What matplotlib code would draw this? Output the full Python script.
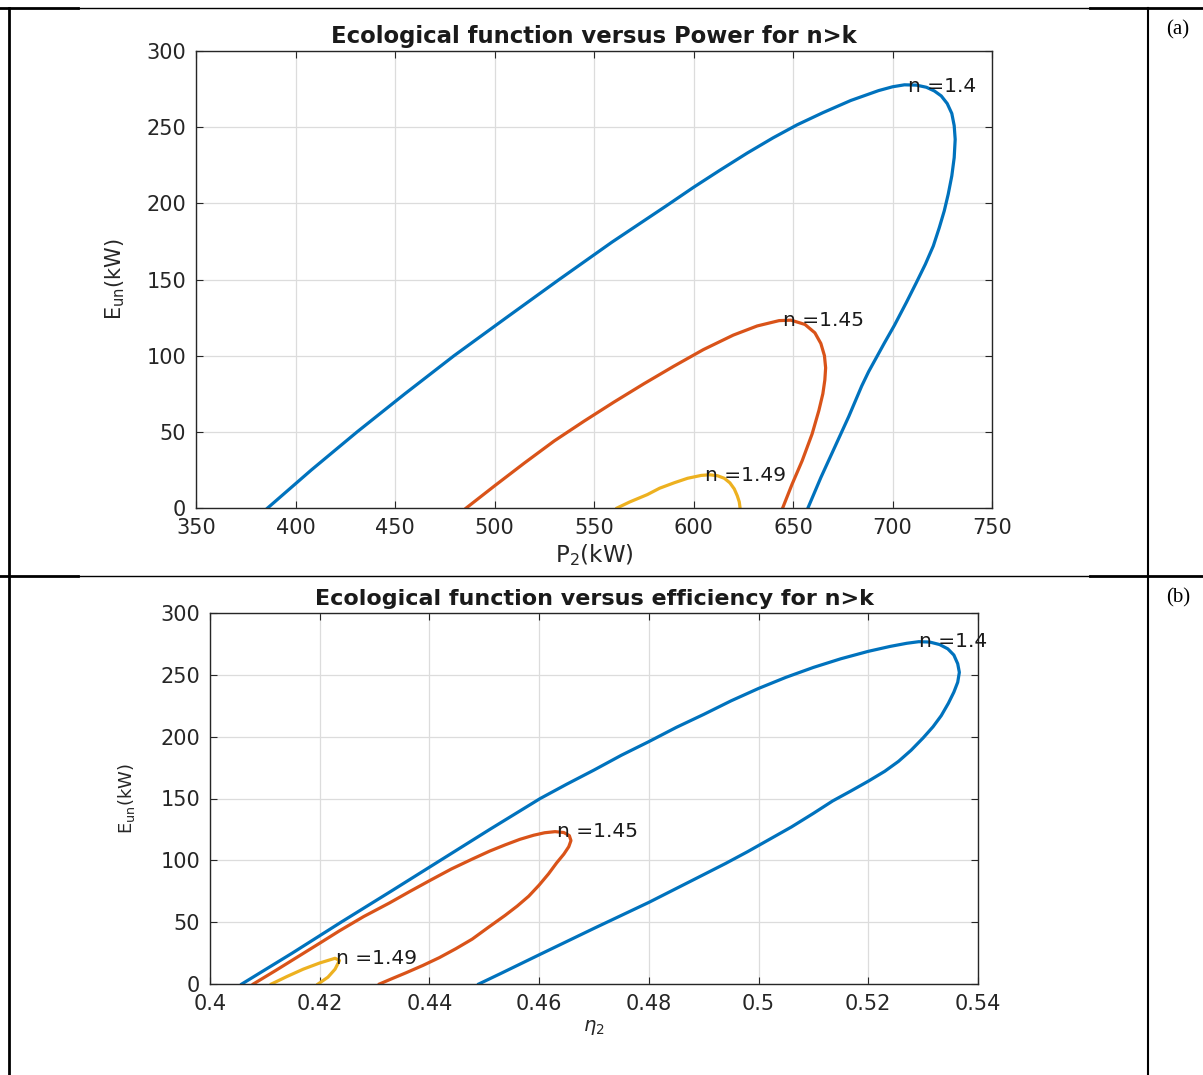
import matplotlib
matplotlib.use("Agg")
import matplotlib.pyplot as plt
from matplotlib.lines import Line2D

# ---------------- data ----------------
# Panel (a): ecological function E_un (kW) versus power P2 (kW)
p2_n140 = [386, 408, 431, 455, 479.7, 506, 532.5, 559, 586.5, 600, 613, 627, 640, 652, 665, 679,
           693, 700, 706, 712, 717, 721, 724.5, 727.5, 729.8, 731, 731.5, 731, 729.8, 728, 726,
           723.5, 720.5, 716.5, 712, 707, 701, 696, 692, 688, 684.5, 678, 671, 664, 657.5]
e_a_n140 = [0, 25, 50, 75, 100, 125, 150, 174.5, 198.5, 210.5, 221.5, 233, 243, 251.5, 259.5, 267.5,
            274, 276.5, 277.8, 277.6, 276.2, 273.8, 270.5, 265.5, 259, 251, 242, 230, 218, 206, 195,
            184, 172, 160, 148, 135, 120, 108.5, 99, 89.5, 80, 60, 40, 20, 0]
p2_n145 = [485.8, 500, 515, 530, 545, 560, 575, 590, 605, 620, 632, 643, 649, 656, 661, 664,
           665.8, 666.4, 666, 665, 663, 659.6, 654.6, 649.5, 644.8]
e_a_n145 = [0, 14.5, 29.5, 44, 57, 69.5, 81.5, 93, 104, 113.5, 119.5, 123, 123.3, 120.5, 115, 108,
            100, 92, 84, 75, 64, 48.6, 31, 15.5, 0]
p2_n149 = [561.6, 568, 576.8, 583, 590.4, 597, 603.9, 608, 612, 615.5, 618.3, 620.5, 622, 623, 623.4]
e_a_n149 = [0, 4, 8.8, 13, 16.6, 19.5, 21.4, 21.8, 21.2, 19.5, 16.5, 12.5, 8, 4, 0]

# Panel (b): ecological function E_un (kW) versus efficiency eta2
eta_n140 = [0.4058, 0.4150, 0.4239, 0.4330, 0.4420, 0.4510, 0.4602, 0.4650, 0.4700, 0.4750,
            0.4800, 0.4850, 0.4900, 0.4950, 0.5000, 0.5050, 0.5100, 0.5150, 0.5200, 0.5240,
            0.5270, 0.5292, 0.5312, 0.5330, 0.5345, 0.5356, 0.5363, 0.5366, 0.5363, 0.5356,
            0.5346, 0.5333, 0.5318, 0.5300, 0.5278, 0.5255, 0.5230, 0.5200, 0.5168, 0.5135,
            0.5100, 0.5060, 0.5020, 0.4980, 0.4940, 0.4889, 0.4800, 0.4700, 0.4600, 0.4530,
            0.4490]
e_b_n140 = [0, 25, 50, 75, 100, 125, 150, 161.5, 173, 185,
            196, 207.5, 218, 229, 239, 248, 256, 263, 269, 273,
            275.5, 276.8, 276.5, 274.5, 271, 266, 259, 252, 244, 236,
            227, 217, 208, 199, 189, 180, 172, 164, 156, 148,
            138, 127, 117, 107, 97.5, 86, 66, 45, 23.6, 8.5,
            0]
eta_n145 = [0.4079, 0.4120, 0.4160, 0.4200, 0.4236, 0.4280, 0.4327, 0.4365, 0.4400, 0.4440,
            0.4478, 0.4510, 0.4538, 0.4565, 0.4590, 0.4610, 0.4629, 0.4645, 0.4655, 0.4658,
            0.4654, 0.4645, 0.4632, 0.4617, 0.4600, 0.4581, 0.4560, 0.4538, 0.4508, 0.4478,
            0.4448, 0.4418, 0.4388, 0.4357, 0.4330, 0.4309]
e_b_n145 = [0, 11, 22, 33, 43, 54.5, 65.5, 75, 83.5, 93,
            101, 107.5, 112.5, 117, 120.3, 122.3, 123.2, 122.5, 120, 116,
            111, 105, 98, 89, 80, 71, 63, 55.5, 46, 36.3,
            28.5, 21.3, 15, 9, 4, 0]
eta_n149 = [0.4112, 0.4140, 0.4170, 0.4200, 0.4228, 0.4236, 0.4228, 0.4215, 0.4197]
e_b_n149 = [0, 6, 12, 17, 20.8, 19, 12, 5.5, 0]

labels = ["n =1.4", "n =1.45", "n =1.49"]
label_p2 = [708, 645, 606]
label_e_a = [277, 123, 21.5]
label_eta = [0.5292, 0.4632, 0.4230]
label_e_b = [277, 123, 21]

x_ticks_a = [350, 400, 450, 500, 550, 600, 650, 700, 750]
y_ticks = [0, 50, 100, 150, 200, 250, 300]
x_ticks_b = [0.40, 0.42, 0.44, 0.46, 0.48, 0.50, 0.52, 0.54]
x_ticklabels_b = ["0.4", "0.42", "0.44", "0.46", "0.48", "0.5", "0.52", "0.54"]

# ---------------- styling ----------------
colors = ["#0072BD", "#D95319", "#EDB120"]
axcol = "#262626"
W, H = 1203, 1075
plt.rcParams["font.family"] = ["DejaVu Sans"]

fig = plt.figure(figsize=(W / 100, H / 100), dpi=100)


def style_axes(ax):
    for s in ax.spines.values():
        s.set_color(axcol)
        s.set_linewidth(1.0)
    ax.tick_params(direction="in", length=5, width=0.8, colors=axcol,
                   top=True, right=True, labelsize=15, pad=7)
    ax.grid(True, color="#DCDCDC", linewidth=0.9)
    ax.set_axisbelow(True)


def px_axes(left, top, right, bottom):
    return fig.add_axes([left / W, 1 - bottom / H, (right - left) / W, (bottom - top) / H])


# Panel (a)
axa = px_axes(196, 51, 992, 508)
style_axes(axa)
for xs, es, c in zip([p2_n140, p2_n145, p2_n149], [e_a_n140, e_a_n145, e_a_n149], colors):
    axa.plot(xs, es, color=c, linewidth=2.3, solid_joinstyle="round")
for t, x, y in zip(labels, label_p2, label_e_a):
    axa.text(x, y, t, ha="left", va="center", fontsize=14.5, color="#1a1a1a")
axa.set_xlim(350, 750)
axa.set_ylim(0, 300)
axa.set_xticks(x_ticks_a)
axa.set_yticks(y_ticks)
axa.set_title("Ecological function versus Power for n>k", fontsize=16.4, fontweight="bold",
              color="#1a1a1a", pad=6)
axa.set_xlabel(r"P$_2$(kW)", fontsize=16.5, color=axcol, labelpad=3)
axa.set_ylabel(r"E$_{\mathrm{un}}$(kW)", fontsize=15, color=axcol, labelpad=14)

# Panel (b)
axb = px_axes(210, 613, 978, 984)
style_axes(axb)
for xs, es, c in zip([eta_n140, eta_n145, eta_n149], [e_b_n140, e_b_n145, e_b_n149], colors):
    axb.plot(xs, es, color=c, linewidth=2.3, solid_joinstyle="round")
for t, x, y in zip(labels, label_eta, label_e_b):
    axb.text(x, y, t, ha="left", va="center", fontsize=14.5, color="#1a1a1a")
axb.set_xlim(0.40, 0.54)
axb.set_ylim(0, 300)
axb.set_xticks(x_ticks_b)
axb.set_xticklabels(x_ticklabels_b)
axb.set_yticks(y_ticks)
axb.set_title("Ecological function versus efficiency for n>k", fontsize=16, fontweight="bold",
              color="#1a1a1a", pad=6)
axb.set_xlabel(r"$\eta_2$", fontsize=14, color=axcol, labelpad=3)
axb.set_ylabel(r"E$_{\mathrm{un}}$(kW)", fontsize=13, color=axcol, labelpad=17)

# Table frame around the two panels
def fline(x0, y0, x1, y1, lw):
    fig.add_artist(Line2D([x0 / W, x1 / W], [1 - y0 / H, 1 - y1 / H], color="black",
                          linewidth=lw, transform=fig.transFigure))

for y in (8, 576):
    fline(0, y, 78, y, 2.0)
    fline(78, y, 1090, y, 1.0)
    fline(1090, y, W, y, 2.0)
fline(9, 8, 9, H, 2.0)
fline(1148, 8, 1148, H, 1.5)

fig.text(1178 / W, 1 - 30 / H, "(a)", ha="center", va="center", fontsize=15,
         family="Liberation Serif")
fig.text(1178 / W, 1 - 598 / H, "(b)", ha="center", va="center", fontsize=15,
         family="Liberation Serif")

fig.savefig("out.png", dpi=100, facecolor="white")
